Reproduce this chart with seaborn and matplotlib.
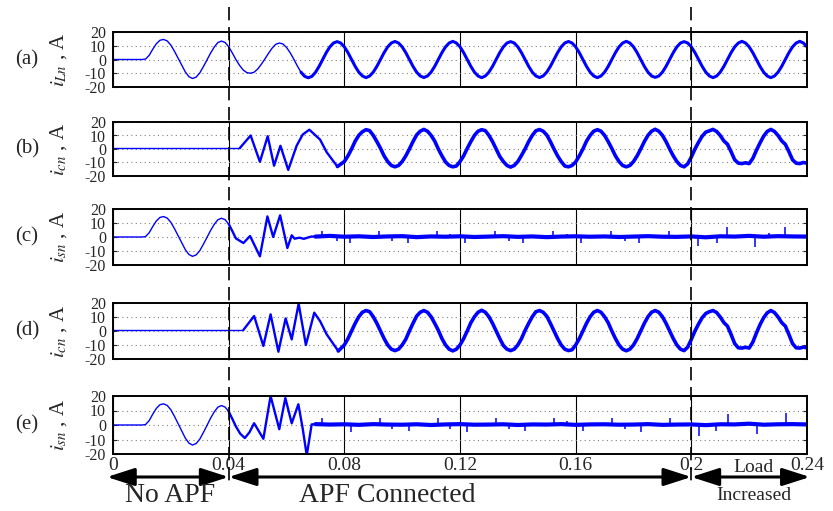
import numpy as np
import matplotlib
matplotlib.use("Agg")
import matplotlib.pyplot as plt
import matplotlib.transforms as mtransforms
from matplotlib.lines import Line2D
import seaborn as sns

# ---------------- data (A) ----------------
dt = 0.00125                      # sample spacing of the traced waveforms (s)
t_grid = np.arange(193) * dt      # 0 ... 0.24 s

# (a) load neutral current, one value per dt from t = 0
i_Ln = [
    0, 0, 0, 0, 0, 0, 0, 0, 0, 0.3, 3, 7.5, 11.5, 14, 14.6, 13.5,
    10.5, 6, 1, -4, -9, -12.5, -13.8, -12.8, -9.8, -5.2, -0.3, 4.7, 9, 12.3, 13.4, 12.4,
    9.3, 4.8, 0, -4.2, -7.6, -9.5, -10, -9.3, -7, -3.6, 0.3, 4.4, 8.2, 11, 12, 11.3,
    8.8, 5, 0.3, -4.7, -9.2, -12.2, -13.3, -12.3, -9.4, -5.1, 0, 5, 9.2, 12, 13, 12,
    9.2, 5, 0, -5, -9.2, -12, -13.2, -12, -9.2, -5, 0, 5, 9.2, 12, 13.1, 12,
    9.2, 5, 0, -5, -9.2, -12, -13.1, -12, -9.2, -5, 0, 5, 9.2, 12, 13.2, 12,
    9.2, 5, 0, -5, -9.2, -12, -13.2, -12, -9.2, -5, 0, 5, 9.2, 12, 13, 12,
    9.2, 5, 0, -5, -9.2, -12, -13.1, -12, -9.2, -5, 0, 5, 9.2, 12, 13.1, 12,
    9.2, 5, 0, -5, -9.2, -12, -13.2, -12, -9.2, -5, 0, 5, 9.2, 12, 13.2, 12,
    9.2, 5, 0, -5, -9.2, -12, -13, -12, -9.2, -5, 0, 5, 9.2, 12, 13, 12,
    9.2, 5, 0, -5, -9.2, -12, -13.2, -12, -9.2, -5, 0, 5, 9.2, 12, 13.2, 12,
    9.2, 5, 0, -5, -9.2, -12, -13.2, -12, -9.2, -5, 0, 5, 9.2, 12, 13.2, 12,
    9.2,
]

# (b) compensator neutral current: transient turning points, then samples from t = 0.08
icn_b_knot_t = [0, 0.0439, 0.0476, 0.0508, 0.0535, 0.0557, 0.0579, 0.0606,
                0.0635, 0.0656, 0.0679, 0.0716, 0.0739, 0.0776]
icn_b_knot_v = [0.8, 0.8, 10, -9.5, 9.5, -12.4, 2.4, -15.5,
                2.4, 10.7, 14.3, 7, -2.4, -13]
icn_b_wave = [
    -9.3, -5.1, 0, 5.8, 10.1, 12.8, 14.3, 13.6, 10.1, 5.5, 0.5, -5.1, -9.3, -12.2, -13.2, -12.2,
    -9.3, -5.1, 0, 5.5, 10.4, 13.2, 14.5, 13.2, 10.1, 5.9, 0, -5.1, -9.6, -12.2, -13.2, -12.6,
    -9.3, -5.1, 0.4, 5.5, 10.1, 13.2, 14.3, 13.6, 10.1, 5.5, 0, -5.5, -9.3, -12.2, -13.4, -12.2,
    -9.3, -4.8, 0, 5.5, 10.1, 13.5, 14.4, 13.2, 10.4, 5.5, 0, -5.1, -9.3, -12.6, -13.2, -12.2,
    -9.6, -5.1, 0, 5.8, 10.1, 13.2, 14.3, 13.2, 10.1, 5.5, 0.4, -5.1, -9.3, -12.2, -13.2, -12.2,
    -9.3, -5.1, 0, 5.5, 10.1, 13.2, 14.6, 13.2, 10.1, 5.5, 0, -5.1, -9.3, -12.2, -13.2, -11,
    -6, 0, 5, 9.5, 12.5, 13.5, 14.5, 13, 10, 6, 3.5, -2, -8, -10.5, -10.8, -10.2,
    -10.8, -7, -1, 4.5, 9.5, 13, 14.5, 13, 10, 6, 3.5, -2, -8, -10.5, -10.8, -10,
    -10.5,
]

# (c) source neutral current
isn_c_knot_t = [0.04, 0.0412, 0.0425, 0.0451, 0.0474, 0.0508, 0.0534, 0.0554,
                0.0578, 0.0603, 0.0618, 0.0628, 0.0645, 0.066, 0.0685]
isn_c_knot_v = [9.3, 4.5, -1, -4.3, 0.7, -13.8, 14.7, 0,
                15.5, -7.9, 1.2, -1.2, -0.5, -1.3, 0.3]
isn_c_base = [0.3, 0.8, 0.2, 0.5, 0.0, 0.4, 0.6, -0.1, 0.4, 0.2, 0.5, 0.0,
              0.3, 0.6, 0.1, 0.4, -0.1, 0.3, 0.5, 0.2, 0.4, 0.0, 0.3, 0.6,
              0.2, 0.1, 0.4, -0.2, 0.5, 0.3, 0.8, 0.2, 0.6, 0.4, 0.3]
isn_c_spike_t = [0.0722, 0.0921, 0.112, 0.1322, 0.1522, 0.1722, 0.1922, 0.2122, 0.2324,
                 0.082, 0.1021, 0.1217, 0.1419, 0.162, 0.182, 0.2022, 0.2088, 0.222,
                 0.0775, 0.0965, 0.1165, 0.137, 0.157, 0.177, 0.227]
isn_c_spike_v = [4.5, 4.2, 4.0, 4.3, 4.4, 4.1, 4.3, 7, 7,
                 -4.3, -4.0, -4.4, -4.2, -4.1, -4.3, -6.6, -4.5, -7,
                 -2.5, -2.5, 2.5, -2.5, 2.5, -2.5, 3]

# (d) compensator neutral current, second case
icn_d_knot_t = [0, 0.0451, 0.0488, 0.052, 0.0545, 0.0572, 0.0597, 0.0618,
                0.0642, 0.0667, 0.0696, 0.0716, 0.0739, 0.0779]
icn_d_knot_v = [0.8, 0.8, 10.7, -10.7, 11.9, -14.8, 9, -6,
                19.5, -10, 13.1, 7.1, -2.4, -14.3]
icn_d_wave = [
    -10, -5.5, 0, 5.5, 10.2, 13.4, 14.6, 13.8, 10.2, 5.5, 0, -5.4, -10, -13, -14, -13,
    -10, -5.9, 0, 5.5, 10.6, 13.4, 14.6, 13.4, 10.2, 5.5, 0.5, -5.4, -10, -13, -14.2, -13,
    -10, -5.5, 0, 5.9, 10.2, 13.4, 14.8, 13.4, 10.2, 5.5, 0, -5.4, -10.4, -13, -14, -13,
    -10, -5.5, 0.4, 5.5, 10.2, 13.8, 14.6, 13.4, 10.6, 5.5, 0, -5.4, -10, -13, -14, -13.4,
    -10, -5.5, 0, 5.5, 10.2, 13.4, 14.6, 13.4, 10.2, 5.9, 0, -5.4, -10, -13, -14.1, -13,
    -10, -5.5, 0, 5.5, 10.2, 13.4, 14.6, 13.4, 10.2, 5.5, 0, -5.4, -10, -13, -14, -11.5,
    -6, 0, 5, 9.5, 12.5, 13.8, 14.6, 13.2, 10, 6, 3.5, -2.5, -9, -12, -12.2, -11.6,
    -12.2, -8, -1.5, 4.5, 9.5, 13, 14.6, 13.2, 10, 6, 3.5, -2.5, -9, -12, -12.2, -11.5,
    -12,
]

# (e) source neutral current, second case
isn_e_knot_t = [0.04, 0.0412, 0.0425, 0.044, 0.0456, 0.0472, 0.0488, 0.052, 0.0545,
                0.0575, 0.0596, 0.0618, 0.0641, 0.0656, 0.067, 0.0687]
isn_e_knot_v = [9.3, 4.5, -1, -6, -9, -5, 1.2, -9.5, 20,
                -2.9, 18.6, 1.2, 14.3, -2.4, -21, 0.4]
isn_e_base = [0.6, 0.3, 0.5, 0.1, 0.6, 0.3, 0.2, 0.5, 0.0, 0.4, 0.6, 0.2,
              0.3, 0.5, 0.0, 0.4, 0.3, 0.6, 0.1, 0.4, 0.5, 0.2, 0.3, 0.6,
              0.1, 0.3, 0.4, -0.1, 0.5, 0.4, 0.9, 0.2, 0.5, 0.6, 0.4]
isn_e_spike_t = [0.0723, 0.0922, 0.1124, 0.1325, 0.1525, 0.1726, 0.1926, 0.2127, 0.2327,
                 0.0823, 0.1024, 0.1224, 0.1425, 0.1625, 0.1826, 0.2027, 0.2227,
                 0.0965, 0.1165, 0.137, 0.157, 0.177, 0.2085]
isn_e_spike_v = [5, 4.6, 4.8, 4.5, 4.7, 4.6, 4.8, 7.5, 8,
                 -4.5, -4.2, -4.6, -4.4, -4.3, -4.5, -7.5, -6,
                 -2.5, -2.5, -2.5, 2.5, -2.5, -4]

t_base = 0.07 + np.arange(35) * 0.005   # times of the flat-trace readings

panel_tags = ["(a)", "(b)", "(c)", "(d)", "(e)"]
panel_ylabels = [r"$i_{Ln}$ , A", r"$i_{cn}$ , A", r"$i_{sn}$ , A",
                 r"$i_{cn}$ , A", r"$i_{sn}$ , A"]
y_ticks = [-20, -10, 0, 10, 20]
y_ticklabels = ["-20", "-10", "0", "10", "20"]
x_ticks = [0, 0.04, 0.08, 0.12, 0.16, 0.2, 0.24]
x_ticklabels = ["0", "0.04", "0.08", "0.12", "0.16", "0.2", "0.24"]
events = [0.04, 0.2]

# ---------------- figure ----------------
sns.set_style("ticks")
plt.rcParams["font.family"] = ["Liberation Serif", "DejaVu Serif"]
plt.rcParams["mathtext.fontset"] = "stix"

W, H = 833, 511
fig = plt.figure(figsize=(W / 100, H / 100), dpi=100)
panel_px = [(32, 87), (122, 176), (209, 265), (303, 359), (396, 454)]
x0_px, x1_px = 113, 807


def draw_trace(ax, t, v, breaks, widths):
    t = np.asarray(t, float)
    v = np.asarray(v, float)
    edges = [-np.inf] + list(breaks) + [np.inf]
    for k, lw in enumerate(widths):
        m = (t >= edges[k]) & (t <= edges[k + 1])
        sns.lineplot(x=t[m], y=v[m], ax=ax, color="blue", lw=lw,
                     estimator=None, sort=False, legend=False)


axes = []
for k, (top, bot) in enumerate(panel_px):
    ax = fig.add_axes([x0_px / W, 1 - bot / H, (x1_px - x0_px) / W, (bot - top) / H])
    ax.set_xlim(0, 0.24)
    ax.set_ylim(-20, 20)
    ax.set_yticks(y_ticks)
    ax.set_yticklabels(y_ticklabels, fontsize=11.5)
    ax.set_xticks(x_ticks)
    if k == 4:
        ax.set_xticklabels(x_ticklabels, fontsize=14)
    else:
        ax.set_xticklabels([])
    ax.tick_params(axis="y", direction="in", length=3, pad=5, right=True, width=0.8)
    ax.tick_params(axis="x", direction="in", length=0, pad=2)
    ax.grid(axis="x", color="black", ls="-", lw=0.8)
    ax.grid(axis="y", color="#808080", ls=(0, (1, 3)), lw=0.8)
    for s in ax.spines.values():
        s.set_linewidth(1.4)
        s.set_color("black")
    ax.set_xlabel("")
    ax.set_ylabel("")
    yc = 1 - (top + bot) / 2 / H
    fig.text(27 / W, yc, panel_tags[k], fontsize=15, ha="center", va="center")
    fig.text(59 / W, yc, panel_ylabels[k], fontsize=15, rotation=90,
             ha="center", va="center")
    axes.append(ax)

ax_a, ax_b, ax_c, ax_d, ax_e = axes

draw_trace(ax_a, t_grid, i_Ln, [0.065], [1.0, 2.2])

tb = np.concatenate([icn_b_knot_t, t_grid[64:]])
vb = np.concatenate([icn_b_knot_v, icn_b_wave])
draw_trace(ax_b, tb, vb, [0.0439, 0.0776], [1.0, 1.7, 2.6])

td = np.concatenate([icn_d_knot_t, t_grid[64:]])
vd = np.concatenate([icn_d_knot_v, icn_d_wave])
draw_trace(ax_d, td, vd, [0.0451, 0.0779], [1.0, 1.7, 2.6])

for ax, kt, kv, base, st, sv in [
    (ax_c, isn_c_knot_t, isn_c_knot_v, isn_c_base, isn_c_spike_t, isn_c_spike_v),
    (ax_e, isn_e_knot_t, isn_e_knot_v, isn_e_base, isn_e_spike_t, isn_e_spike_v),
]:
    t = np.concatenate([t_grid[:32], kt, t_base])
    v = np.concatenate([i_Ln[:32], kv, base])
    draw_trace(ax, t, v, [0.04, 0.07], [1.0, 1.7, 3.0])
    ax.vlines(st, 0.3, sv, color="blue", lw=1.1)

# event markers spanning the whole figure
for te in events:
    tr = mtransforms.blended_transform_factory(ax_e.transData, fig.transFigure)
    fig.add_artist(Line2D([te, te], [1 - 7 / H, 1 - 484 / H], transform=tr,
                          color="black", lw=1.2, ls=(0, (8, 4))))

# arrows and annotations below the last panel
tr = mtransforms.blended_transform_factory(ax_e.transData, fig.transFigure)
y_arrow = 1 - 477 / H
spans = [(-0.0021, 0.04), (0.04, 0.2), (0.2, 0.241)]
for a, b in spans:
    ax_e.annotate("", xy=(b, y_arrow), xytext=(a, y_arrow), xycoords=tr, textcoords=tr,
                  annotation_clip=False,
                  arrowprops=dict(arrowstyle="<|-|>,head_length=1.4,head_width=0.45",
                                  mutation_scale=12, lw=2.2, color="black",
                                  shrinkA=0, shrinkB=0))

ax_e.text(0.0197, 1 - 495 / H, "No APF", transform=tr, fontsize=20, ha="center", va="center")
ax_e.text(0.0948, 1 - 496 / H, "APF Connected", transform=tr, fontsize=20, ha="center", va="center")
ax_e.text(0.2215, 1 - 467 / H, "Load", transform=tr, fontsize=14, ha="center", va="center")
ax_e.text(0.2215, 1 - 495 / H, "Increased", transform=tr, fontsize=14, ha="center", va="center")

fig.savefig("out.png", dpi=100)
